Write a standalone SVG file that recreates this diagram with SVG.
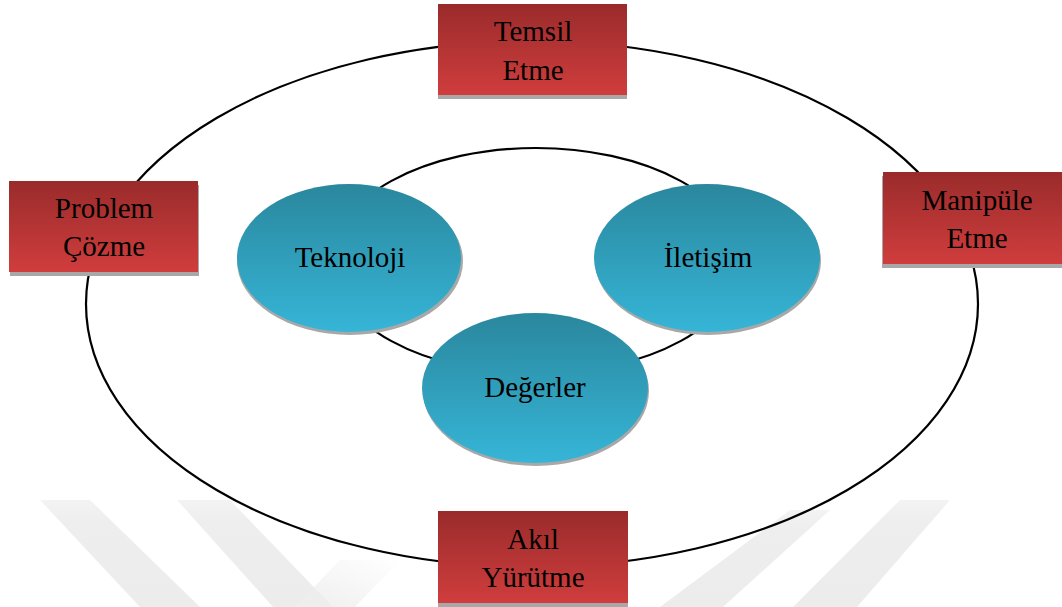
<svg xmlns="http://www.w3.org/2000/svg" width="1062" height="607" viewBox="0 0 1062 607">
<style>
.ring{fill:none;stroke:#000;stroke-width:2.2}
.box{fill:url(#red)}
.shadow{fill:#a8a8a8}
.oval{fill:url(#blue)}
.wm{fill:url(#fadeT)}
text{font-family:"Liberation Serif","Times New Roman",serif;font-size:29px;fill:#000;text-anchor:middle}
</style>
<defs>
<linearGradient id="red" x1="0" y1="0" x2="0" y2="1">
<stop offset="0" stop-color="#9a2b2b"/>
<stop offset="1" stop-color="#d03d3d"/>
</linearGradient>
<linearGradient id="blue" x1="0" y1="0" x2="0" y2="1">
<stop offset="0" stop-color="#2a879d"/>
<stop offset="1" stop-color="#36b5d7"/>
</linearGradient>
<linearGradient id="fadeT" x1="0" y1="0" x2="0" y2="1">
<stop offset="0" stop-color="#f3f3f3"/>
<stop offset="0.2" stop-color="#eeeeee"/>
<stop offset="1" stop-color="#ececec"/>
</linearGradient>
<linearGradient id="fadeL" x1="0" y1="1" x2="1" y2="0">
<stop offset="0" stop-color="#eeeeee"/>
<stop offset="1" stop-color="#eeeeee" stop-opacity="0"/>
</linearGradient>
</defs>
<rect width="1062" height="607" fill="#fff"/>
<g id="watermark">
<polygon class="wm" points="40,500 90,500 200,607 140,607"/>
<polygon class="wm" points="177,500 230,500 333,607 273,607"/>
<polygon fill="url(#fadeL)" points="295,607 355,607 400,560 340,560"/>
<polygon class="wm" points="660,607 723,607 830,510 790,510"/>
<polygon class="wm" points="900,500 950,500 857,607 793,607"/>
</g>
<g id="connectors">
<ellipse class="ring" cx="532" cy="304" rx="446" ry="263"/>
<ellipse class="ring" cx="536" cy="261" rx="205" ry="113"/>
</g>
<g id="temsil-etme">
<rect class="shadow" x="438" y="8" width="189" height="91"/>
<rect class="box" x="438" y="4" width="189" height="91"/>
<text x="533" y="41">Temsil</text>
<text x="533" y="80">Etme</text>
</g>
<g id="problem-cozme">
<rect class="shadow" x="10" y="185" width="189" height="91"/>
<rect class="box" x="9" y="181" width="189" height="91"/>
<text x="104" y="218">Problem</text>
<text x="104" y="256">Çözme</text>
</g>
<g id="manipule-etme">
<rect class="shadow" x="882" y="176" width="190" height="92"/>
<rect class="box" x="883" y="172" width="189" height="92"/>
<text x="977" y="210">Manipüle</text>
<text x="977" y="248">Etme</text>
</g>
<g id="akil-yurutme">
<rect class="shadow" x="438" y="515" width="190" height="92"/>
<rect class="box" x="438" y="511" width="190" height="92"/>
<text x="533" y="549">Akıl</text>
<text x="533" y="587">Yürütme</text>
</g>
<g id="teknoloji">
<ellipse class="shadow" cx="350" cy="261" rx="113" ry="74"/>
<ellipse class="oval" cx="349" cy="258" rx="112" ry="74"/>
<text x="350" y="267">Teknoloji</text>
</g>
<g id="iletisim">
<ellipse class="shadow" cx="708" cy="261" rx="113" ry="74"/>
<ellipse class="oval" cx="707" cy="258" rx="113" ry="74"/>
<text x="708" y="267">İletişim</text>
</g>
<g id="degerler">
<ellipse class="shadow" cx="536" cy="391" rx="113" ry="75"/>
<ellipse class="oval" cx="535" cy="388" rx="113" ry="75"/>
<text x="535" y="397">Değerler</text>
</g>
</svg>
